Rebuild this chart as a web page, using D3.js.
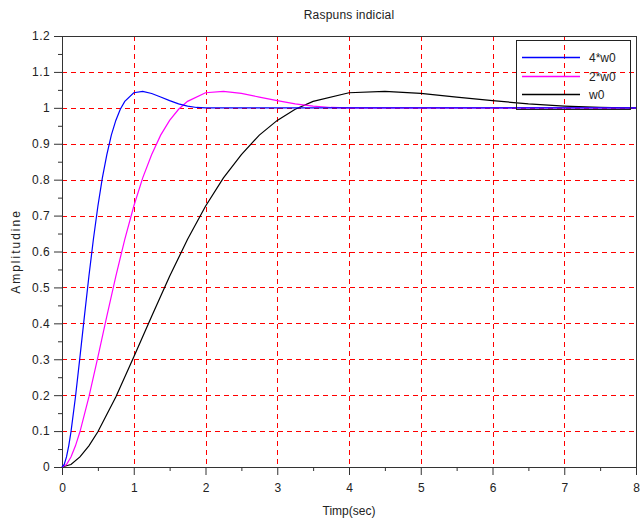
<!DOCTYPE html>
<html>
<head>
	<meta charset="utf-8">
	<title>Raspuns indicial</title>
	<script type="text/javascript" src="https://d3js.org/d3.v7.min.js"></script>
	<style>
		body { margin: 0; background: #fff; }
		text { font-family: "Liberation Sans", Arial, sans-serif; fill: #222; }
		.axis path, .axis line { stroke: #333; }
		.grid line { stroke: #ff0000; stroke-dasharray: 5,4; }
	</style>
</head>
<body>
	<svg width="640" height="519"></svg>
	<script type="text/javascript">

	// step response samples
	var tBlue = [0, 0.03125, 0.0625, 0.09375, 0.125, 0.1875, 0.25, 0.3125, 0.375, 0.4375, 0.5, 0.5625, 0.625, 0.6875, 0.75, 0.8125, 0.875, 1.0, 1.125, 1.25, 1.375, 1.5, 1.625, 1.75, 1.875, 2.0, 8];
	var yBlue = [0, 0.007, 0.028, 0.059, 0.098, 0.195, 0.306, 0.420, 0.531, 0.634, 0.726, 0.805, 0.870, 0.924, 0.965, 0.996, 1.018, 1.042, 1.046, 1.040, 1.030, 1.020, 1.011, 1.005, 1.001, 1.0, 1.0];

	var tMag = [0, 0.0625, 0.125, 0.1875, 0.25, 0.375, 0.5, 0.625, 0.75, 0.875, 1.0, 1.125, 1.25, 1.375, 1.5, 1.625, 1.75, 2.0, 2.25, 2.5, 2.75, 3.0, 3.25, 3.5, 3.75, 4.0, 8];
	var yMag = [0, 0.007, 0.028, 0.059, 0.098, 0.195, 0.306, 0.420, 0.531, 0.634, 0.726, 0.805, 0.870, 0.924, 0.965, 0.996, 1.018, 1.042, 1.046, 1.040, 1.030, 1.020, 1.011, 1.005, 1.001, 1.0, 1.0];

	var tBlack = [0, 0.125, 0.25, 0.375, 0.5, 0.75, 1.0, 1.25, 1.5, 1.75, 2.0, 2.25, 2.5, 2.75, 3.0, 3.25, 3.5, 4.0, 4.5, 5.0, 5.5, 6.0, 6.5, 7.0, 7.5, 8.0];
	var yBlack = [0, 0.007, 0.028, 0.059, 0.098, 0.195, 0.306, 0.420, 0.531, 0.634, 0.726, 0.805, 0.870, 0.924, 0.965, 0.996, 1.018, 1.042, 1.046, 1.040, 1.030, 1.020, 1.011, 1.005, 1.001, 0.999];

	var legendNames = ["4*w0", "2*w0", "w0"];
	var colors = ["#0000ff", "#ff00ff", "#000000"];
	var xTicks = [0, 1, 2, 3, 4, 5, 6, 7, 8];
	var yTicks = [0, 0.1, 0.2, 0.3, 0.4, 0.5, 0.6, 0.7, 0.8, 0.9, 1, 1.1, 1.2];

	var svg = d3.select("svg"),
		margin = {top: 36, right: 4, bottom: 52, left: 62},
		width = +svg.attr("width") - margin.left - margin.right,
		height = +svg.attr("height") - margin.top - margin.bottom;

	var x = d3.scaleLinear().domain([0, 8]).range([0, width]),
		y = d3.scaleLinear().domain([0, 1.2]).range([height, 0]);

	var g = svg.append("g")
		.attr("transform", "translate(" + margin.left + "," + margin.top + ")");

	// grid
	var grid = g.append("g").attr("class", "grid");
	grid.selectAll(".gx")
		.data(xTicks.slice(1, -1))
		.enter().append("line")
		.attr("x1", function(d) { return Math.round(x(d)) + 0.5; })
		.attr("x2", function(d) { return Math.round(x(d)) + 0.5; })
		.attr("y1", 0)
		.attr("y2", height);
	grid.selectAll(".gy")
		.data(yTicks.slice(1, -1))
		.enter().append("line")
		.attr("y1", function(d) { return Math.round(y(d)) + 0.5; })
		.attr("y2", function(d) { return Math.round(y(d)) + 0.5; })
		.attr("x1", 0)
		.attr("x2", width);

	// minor ticks
	var minorX = d3.range(0.5, 8, 1), minorY = d3.range(0.05, 1.2, 0.1);
	g.append("g").attr("class", "axis")
		.attr("transform", "translate(0," + height + ")")
		.call(d3.axisBottom(x).tickValues(minorX).tickSize(4).tickFormat(""))
		.select(".domain").remove();
	g.append("g").attr("class", "axis")
		.call(d3.axisLeft(y).tickValues(minorY).tickSize(4).tickFormat(""))
		.select(".domain").remove();

	// main axes
	g.append("g").attr("class", "axis")
		.attr("transform", "translate(0," + height + ")")
		.call(d3.axisBottom(x).tickValues(xTicks).tickSize(8).tickSizeOuter(0).tickPadding(8))
		.selectAll("text").style("font-size", "12px");
	g.append("g").attr("class", "axis")
		.call(d3.axisLeft(y).tickValues(yTicks).tickSize(8).tickSizeOuter(0).tickPadding(4).tickFormat(d3.format("")))
		.selectAll("text").style("font-size", "12px").style("letter-spacing", "0.4px");

	// frame
	g.append("rect")
		.attr("x", 0.5)
		.attr("y", 0.5)
		.attr("width", width)
		.attr("height", height)
		.attr("fill", "none")
		.attr("stroke", "#333");

	// curves
	var line = d3.line()
		.x(function(d) { return x(d[0]); })
		.y(function(d) { return y(d[1]); });

	var series = [
		{t: tBlack, v: yBlack, c: colors[2]},
		{t: tMag, v: yMag, c: colors[1]},
		{t: tBlue, v: yBlue, c: colors[0]}
	];
	series.forEach(function(s) {
		g.append("path")
			.datum(s.t.map(function(t, i) { return [t, s.v[i]]; }))
			.attr("fill", "none")
			.attr("stroke", s.c)
			.attr("stroke-width", 1.2)
			.attr("d", line);
	});

	// legend
	var lg = svg.append("g").attr("transform", "translate(516,40)");
	lg.append("rect")
		.attr("x", 0.5)
		.attr("y", 0.5)
		.attr("width", 114)
		.attr("height", 69)
		.attr("fill", "none")
		.attr("stroke", "#222");
	legendNames.forEach(function(name, i) {
		var ly = [17.5, 36.5, 54.5][i];
		lg.append("line")
			.attr("x1", 6).attr("x2", 64)
			.attr("y1", ly).attr("y2", ly)
			.attr("stroke", colors[i])
			.attr("stroke-width", 1.6);
		lg.append("text")
			.attr("x", 73)
			.attr("y", ly + 4)
			.style("font-size", "12px")
			.text(name);
	});

	// titles
	svg.append("text")
		.attr("x", margin.left + width / 2)
		.attr("y", 19)
		.attr("text-anchor", "middle")
		.style("font-size", "12px")
		.style("letter-spacing", "0.2px")
		.text("Raspuns indicial");

	svg.append("text")
		.attr("x", margin.left + width / 2)
		.attr("y", 515)
		.attr("text-anchor", "middle")
		.style("font-size", "12px")
		.text("Timp(sec)");

	svg.append("text")
		.attr("transform", "translate(19.5," + (margin.top + height / 2) + ") rotate(-90)")
		.attr("text-anchor", "middle")
		.style("font-size", "12px")
		.style("letter-spacing", "2px")
		.text("Amplitudine");

	</script>
</body>
</html>
